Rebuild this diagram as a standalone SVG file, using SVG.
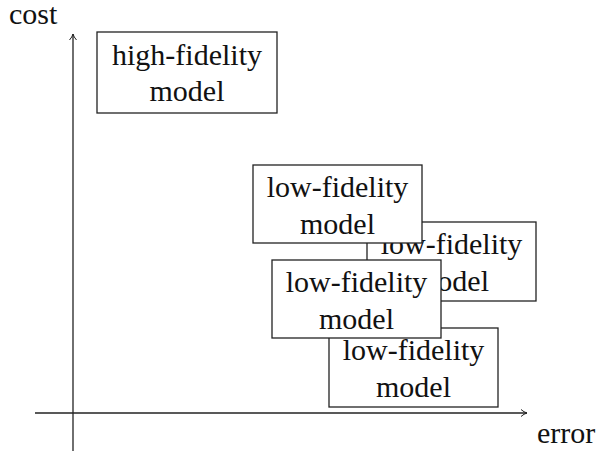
<svg xmlns="http://www.w3.org/2000/svg" width="602" height="453" viewBox="0 0 602 453">
<style>
.box rect{fill:#fff;stroke:#222;stroke-width:1.3}
text{font-family:"Liberation Serif","DejaVu Serif",serif;font-size:30px;fill:#111}
.c{text-anchor:middle}
.ax{stroke:#222;stroke-width:1.3;fill:none}
</style>
<defs>
<marker id="arr" markerWidth="10" markerHeight="10" refX="7" refY="5" orient="auto" markerUnits="userSpaceOnUse">
<path d="M1,1.5 Q4,4.2 7,5 Q4,5.8 1,8.5" fill="none" stroke="#222" stroke-width="1"/>
</marker>
</defs>
<g id="connectors">
<line class="ax" x1="73" y1="451" x2="73" y2="34" marker-end="url(#arr)"/>
<line class="ax" x1="35" y1="413" x2="527" y2="413" marker-end="url(#arr)"/>
</g>
<text x="9" y="24">cost</text>
<text x="537" y="443">error</text>
<g id="high" class="box">
<rect x="97" y="32" width="180" height="81"/>
<text class="c" x="187" y="65">high-fidelity</text>
<text class="c" x="187" y="101">model</text>
</g>
<g id="low3" class="box">
<rect x="367" y="222" width="169" height="79"/>
<text class="c" x="451.5" y="254">low-fidelity</text>
<text class="c" x="451.5" y="291">model</text>
</g>
<g id="low5" class="box">
<rect x="329" y="328" width="169" height="79"/>
<text class="c" x="413.5" y="360">low-fidelity</text>
<text class="c" x="413.5" y="397">model</text>
</g>
<g id="low2" class="box">
<rect x="253" y="165" width="169" height="78"/>
<text class="c" x="337.5" y="197">low-fidelity</text>
<text class="c" x="337.5" y="234">model</text>
</g>
<g id="low4" class="box">
<rect x="272" y="260" width="169" height="78"/>
<text class="c" x="356.5" y="292">low-fidelity</text>
<text class="c" x="356.5" y="329">model</text>
</g>
</svg>
